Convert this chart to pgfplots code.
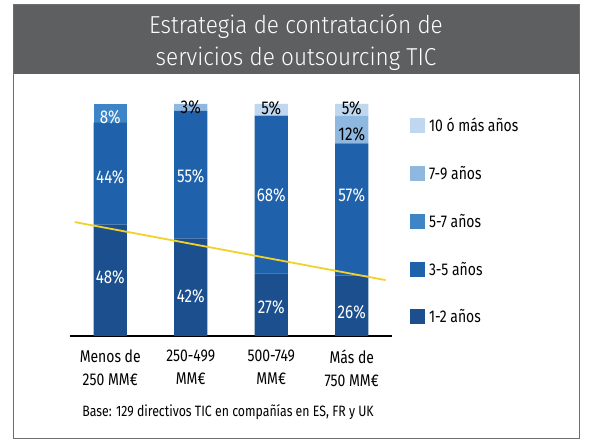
\documentclass[border=0pt]{standalone}
\usepackage{fontspec}
\setmainfont{Fira Sans}[FakeStretch=0.82]
\newfontfamily\titlefont{Fira Sans Light}[FakeStretch=0.92]
\usepackage{pgfplots}
\pgfplotsset{compat=1.18}

\definecolor{c12}{HTML}{1B4F8E}
\definecolor{c35}{HTML}{1F62AB}
\definecolor{c57}{HTML}{3D85C6}
\definecolor{c79}{HTML}{8EB8E0}
\definecolor{c10}{HTML}{C0D8EF}
\definecolor{hdr}{HTML}{5E5F61}
\definecolor{frm}{HTML}{6D6E70}
\definecolor{trend}{HTML}{F3D12B}

\newcommand{\lblfont}{\fontsize{17}{23}\selectfont}
\newcommand{\valfont}{\fontsize{18.5}{22}\selectfont}

\begin{document}
\begin{tikzpicture}[x=1pt,y=1pt]
\useasboundingbox (0,0) rectangle (592,447);
\fill[white] (0,0) rectangle (592,447);
\fill[hdr] (13,373) rectangle (579,442);
\draw[frm, line width=1pt] (13,8) rectangle (579,442);
\node[anchor=base, text=white, font=\titlefont\fontsize{24.5}{30}\selectfont] at (296,413) {Estrategia de contratación de};
\node[anchor=base, text=white, font=\titlefont\fontsize{24.5}{30}\selectfont] at (296,381) {servicios de outsourcing TIC};
\node[anchor=base, font=\fontsize{15}{18}\selectfont] at (228,30) {Base: 129 directivos TIC en compañías en ES, FR y UK};

\begin{axis}[
  at={(70pt,111pt)}, anchor=south west,
  scale only axis, width=322pt, height=232pt,
  xmin=-0.5, xmax=3.5, ymin=0, ymax=100,
  ybar stacked, bar width=0.41,
  axis x line*=bottom, axis y line=none,
  x axis line style={black, line width=1.2pt},
  xtick={0,1,2,3},
  xticklabels={{Menos de\\250 MM€},{250-499\\MM€},{500-749\\MM€},{Más de\\750 MM€}},
  xtick style={draw=none},
  xticklabel style={align=center, anchor=north, inner sep=0pt, yshift=-14pt, font=\lblfont},
  ytick=\empty,
  legend cell align=left,
  legend style={at={(1.056,0.9375)}, anchor=north west, draw=none, fill=none,
    inner sep=0pt, outer sep=0pt, row sep=32.7pt, column sep=4pt, font=\lblfont,
    nodes={anchor=west, inner sep=0pt, text height=13.5pt, text depth=1.5pt}},
  legend image code/.code={\fill[#1] (0pt,-7.5pt) rectangle (15pt,7.5pt);},
  reverse legend,
]
\addplot[fill=c12, draw=none] coordinates {(0,48) (1,42) (2,27) (3,26)};
\addplot[fill=c35, draw=none] coordinates {(0,44) (1,55) (2,68) (3,57)};
\addplot[fill=c57, draw=none] coordinates {(0,8) (1,0) (2,0) (3,0)};
\addplot[fill=c79, draw=none] coordinates {(0,0) (1,3) (2,0) (3,12)};
\addplot[fill=c10, draw=none] coordinates {(0,0) (1,0) (2,5) (3,5)};
\legend{1-2 años,3-5 años,5-7 años,7-9 años,10 ó más años}
\end{axis}

\begin{axis}[
  at={(70pt,111pt)}, anchor=south west,
  scale only axis, width=322pt, height=232pt,
  xmin=-0.5, xmax=3.5, ymin=0, ymax=100,
  hide axis, clip=false,
]
\addplot[trend, line width=1.8pt] coordinates {(-0.44,49.1) (3.42,24.1)};
\addplot[draw=none, mark=none, nodes near coords, point meta=explicit symbolic,
  every node near coord/.append style={anchor=center, text=white, font=\valfont}]
  coordinates {(0,25.4) [48\%] (0,68.5) [44\%] (0,94.4) [8\%]
               (1,17) [42\%] (1,69) [55\%]
               (2,12.5) [27\%] (2,60.8) [68\%]
               (3,10.3) [26\%] (3,60.8) [57\%]};
\addplot[draw=none, mark=none, nodes near coords, point meta=explicit symbolic,
  every node near coord/.append style={anchor=center, text=black, font=\valfont}]
  coordinates {(1,98.4) [3\%] (2,98) [5\%] (3,98) [5\%] (3,87) [12\%]};
\end{axis}
\end{tikzpicture}
\end{document}
